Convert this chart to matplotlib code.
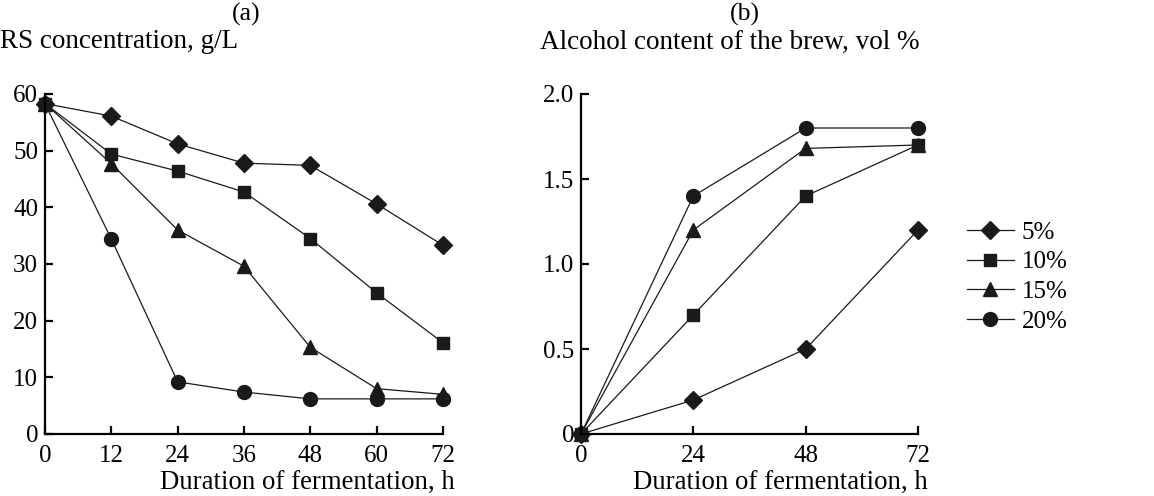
import matplotlib
matplotlib.use("Agg")
import matplotlib.pyplot as plt

plt.rcParams['font.family'] = ['Liberation Serif', 'DejaVu Serif']

# ---- data ----
hours_a = [0, 12, 24, 36, 48, 60, 72]
rs_5 = [58.3, 56.1, 51.2, 47.8, 47.4, 40.6, 33.3]
rs_10 = [58.3, 49.4, 46.4, 42.7, 34.5, 24.9, 16.1]
rs_15 = [58.3, 47.7, 36.0, 29.6, 15.3, 8.0, 7.0]
rs_20 = [58.3, 34.4, 9.2, 7.4, 6.2, 6.2, 6.2]

hours_b = [0, 24, 48, 72]
alc_5 = [0.0, 0.2, 0.5, 1.2]
alc_10 = [0.0, 0.7, 1.4, 1.7]
alc_15 = [0.0, 1.2, 1.68, 1.7]
alc_20 = [0.0, 1.4, 1.8, 1.8]

labels = ['5%', '10%', '15%', '20%']
markers = ['D', 's', '^', 'o']
msizes = [9.5, 9, 10, 10]

W, H = 1154, 496
fig = plt.figure(figsize=(W / 100, H / 100), dpi=100)

def box(x0, x1, y_top, y_bot):
    return [x0 / W, 1 - y_bot / H, (x1 - x0) / W, (y_bot - y_top) / H]

ax1 = fig.add_axes(box(45, 443, 94, 434))
ax2 = fig.add_axes(box(581, 918, 94, 434))

col = '#1a1a1a'
for ys, m, ms, lab in zip([rs_5, rs_10, rs_15, rs_20], markers, msizes, labels):
    ax1.plot(hours_a, ys, marker=m, ms=ms, color=col, lw=0.9, label=lab, clip_on=False)
for ys, m, ms, lab in zip([alc_5, alc_10, alc_15, alc_20], markers, msizes, labels):
    ax2.plot(hours_b, ys, marker=m, ms=ms, color=col, lw=0.9, label=lab, clip_on=False)

ax1.set_xlim(0, 72)
ax1.set_ylim(0, 60)
ax1.set_xticks(hours_a)
ax1.set_yticks([0, 10, 20, 30, 40, 50, 60])
ax2.set_xlim(0, 72)
ax2.set_ylim(0, 2.0)
ax2.set_xticks(hours_b)
ax2.set_yticks([0, 0.5, 1.0, 1.5, 2.0])
ax2.set_yticklabels(['0', '0.5', '1.0', '1.5', '2.0'])

for ax in (ax1, ax2):
    for s in ('top', 'right'):
        ax.spines[s].set_visible(False)
    for s in ('left', 'bottom'):
        ax.spines[s].set_linewidth(1.6)
        ax.spines[s].set_color('black')
    ax.tick_params(direction='in', length=6, width=1.6, labelsize=18, pad=5,
                   colors='black')
    ax.tick_params(axis='x', pad=8)

fig.text(246 / W, 1 - 14 / H, '(a)', ha='center', va='center', fontsize=18.5)
fig.text(745 / W, 1 - 14 / H, '(b)', ha='center', va='center', fontsize=18.5)
fig.text(0 / W, 1 - 42 / H, 'RS concentration, g/L', ha='left', va='center', fontsize=19.5)
fig.text(540 / W, 1 - 42 / H, 'Alcohol content of the brew, vol %', ha='left', va='center', fontsize=19.5)
fig.text(455 / W, 1 / H, 'Duration of fermentation, h', ha='right', va='bottom', fontsize=19.3)
fig.text(928 / W, 1 / H, 'Duration of fermentation, h', ha='right', va='bottom', fontsize=19.3)

fig.legend(*ax2.get_legend_handles_labels(), loc='center left',
           bbox_to_anchor=(954 / W, 1 - 277 / H), frameon=False, fontsize=18,
           handlelength=1.9, handletextpad=0.3, labelspacing=0.28, borderpad=0)

fig.savefig('out.png', dpi=100)
